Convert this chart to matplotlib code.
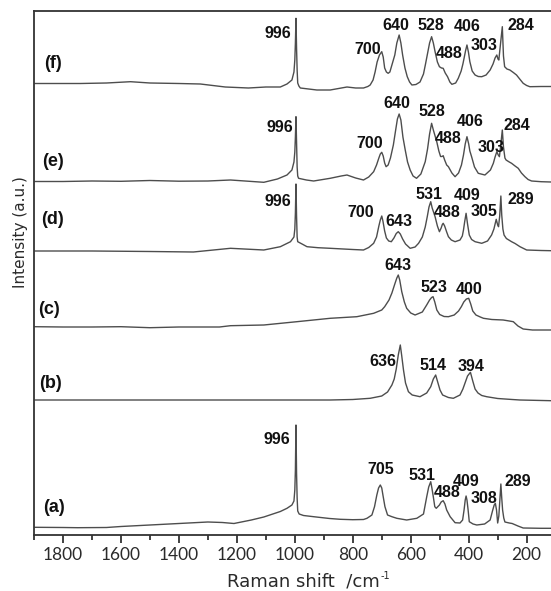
import numpy as np
import matplotlib
matplotlib.use("Agg")
import matplotlib.pyplot as plt
from matplotlib.ticker import MultipleLocator

# Raman spectra: wavenumber (cm-1) and intensity above each trace's own baseline (a.u.)
wn_a = [1897, 1800, 1750, 1650, 1600, 1500, 1400, 1300, 1250, 1210, 1150, 1107, 1050, 1027,
        1010, 1003, 1000, 998, 996, 994, 992, 990, 985, 970, 935, 880, 843, 800, 763, 751,
        734, 725, 717, 711, 705, 700, 696, 689, 680, 665, 648, 614, 579, 556, 545, 538, 531,
        527, 522, 517, 512, 501, 495, 488, 482, 476, 464, 447, 430, 421, 416, 412, 409, 406,
        402, 398, 385, 372, 345, 326, 317, 312, 308, 304, 300, 296, 292, 289, 286, 283, 279,
        275, 260, 250, 230, 212, 150, 116]
int_a = [0.7, 0.5, 0.3, 0.5, 1.5, 3, 4.5, 6, 5.5, 4.5, 8, 11, 16.5, 19.7,
         23, 27, 38, 58, 103, 55, 30, 17, 14, 12.5, 11.3, 9.5, 8.7, 8.3, 8.5, 9.7,
         13, 21.3, 33, 40, 43, 40, 33, 21.3, 13, 11.3, 9.7, 8, 9.7, 14, 31, 41, 46.3,
         40, 31, 21.3, 19.7, 23, 26, 27.3, 24, 18, 11.3, 5.3, 5, 8, 18, 28, 32, 28,
         18, 6.3, 4, 3, 4, 8, 18, 23, 24.7, 18, 5, 12, 30, 44, 30, 18, 10,
         6, 5, 4.5, 2, 0, -0.3, -0.3]

wn_b = [1897, 1500, 1222, 878, 800, 740, 700, 680, 665, 657, 650, 643, 636, 631, 625, 618,
        608, 595, 568, 545, 531, 522, 514, 508, 499, 490, 470, 453, 430, 420, 413, 404, 394,
        386, 378, 368, 355, 338, 300, 250, 223, 116]
int_b = [1, 1, 1, 1, 1.5, 2.7, 5, 9, 16, 22, 32, 46, 56, 45, 31, 18,
         9.3, 6, 4.3, 8, 14.3, 22, 26, 20, 11, 6, 3.5, 2.7, 6, 12, 17.7, 25, 28.7,
         20, 12, 8, 5.5, 4.3, 2.5, 1.5, 1, 0.3]

wn_c = [1897, 1800, 1700, 1600, 1500, 1400, 1260, 1222, 1107, 993, 878, 786, 728, 700, 690,
        675, 665, 655, 648, 643, 638, 631, 622, 614, 600, 585, 560, 545, 535, 528, 523, 517,
        510, 500, 485, 470, 450, 435, 425, 417, 408, 400, 393, 386, 375, 360, 349, 320, 281,
        260, 246, 230, 212, 180, 116]
int_c = [3.3, 3, 3, 3.3, 2.3, 3, 3, 4.3, 5, 8.3, 11.7, 13.3, 16.7, 20, 23.3,
         30, 37, 46, 52, 55, 50, 38.3, 28, 21.7, 17, 15, 18, 25, 30, 32.5, 33.3, 28,
         20, 15.5, 13.5, 13.3, 15, 19, 23.5, 28, 31, 31.7, 26, 19, 15, 13, 11.7, 10.5, 10,
         9, 8.3, 4, 1, 0, 0]

wn_d = [1897, 1700, 1500, 1350, 1222, 1107, 1050, 1015, 1003, 1000, 998, 996, 994, 992, 990,
        975, 958, 920, 878, 800, 763, 745, 728, 718, 710, 705, 700, 696, 690, 684, 676, 667,
        658, 650, 643, 636, 628, 618, 602, 585, 573, 560, 550, 543, 537, 531, 526, 516, 508,
        501, 495, 491, 488, 483, 476, 470, 460, 447, 430, 422, 418, 414, 409, 404, 398, 390,
        378, 355, 335, 321, 313, 305, 300, 297, 293, 289, 286, 282, 278, 270, 252, 240, 223,
        200, 150, 116]
int_d = [0, 0, -0.5, -1, 2.7, 1, 4.3, 9.3, 14, 22, 38, 67, 35, 14, 9.3,
         7, 4.3, 3.3, 2.7, 1.5, 1, 3.5, 7.7, 14, 25, 31, 35, 30, 20, 13, 10, 9.3,
         13, 17.5, 19.3, 17, 12, 7, 2.7, 4, 7.7, 14, 24, 34.3, 44, 49.3, 43, 34.3, 25,
         19.3, 23, 26.5, 27.7, 25, 19, 14.3, 11, 9.3, 11, 15, 21, 29, 37.7, 27, 16, 11.5,
         9.3, 7.7, 10, 16, 22, 31.7, 26, 24.3, 35, 55, 36, 22, 16, 12.5, 9.3, 7.5, 4.3,
         1, 0.5, 0.3]

wn_e = [1897, 1800, 1700, 1600, 1500, 1400, 1300, 1222, 1107, 1060, 1027, 1010, 1003, 1000,
        998, 996, 994, 992, 990, 987, 960, 935, 878, 840, 820, 790, 763, 745, 728, 718, 710,
        705, 700, 695, 690, 685, 678, 670, 660, 652, 646, 640, 634, 627, 619, 611, 602, 592,
        580, 565, 550, 542, 535, 528, 522, 516, 510, 503, 497, 492, 488, 483, 476, 470, 458,
        447, 435, 425, 418, 412, 406, 400, 396, 390, 380, 367, 344, 325, 315, 309, 303, 298,
        294, 289, 284, 280, 275, 271, 260, 252, 240, 229, 218, 206, 195, 183, 150, 116]
int_e = [0.5, 0.5, 1, 0.7, 1.5, 0.8, 1, 2, -0.3, 3, 7, 12, 20, 30,
         45, 65.3, 40, 15, 6, 3.7, 2, 1, 3.7, 6, 7, 4, 2, 5, 10.3, 17, 24,
         28, 29.7, 26, 19, 15.3, 17, 24, 37, 52, 63, 68, 62, 45, 32, 20, 12, 6,
         3.7, 8, 20.3, 33, 48, 58.7, 52, 46, 40, 31, 25.5, 25.5, 26.3, 22, 17, 15.3, 9,
         5.3, 9, 17, 27, 38, 45.3, 38, 31, 25.3, 15, 8.7, 7, 12, 18.7, 25, 30.3, 27,
         25.3, 38, 52, 35, 24, 22, 20, 18.7, 16, 13.7, 9, 5.3, 2.5, 1, 0.3, 0]

wn_f = [1897, 1800, 1740, 1650, 1567, 1500, 1400, 1326, 1240, 1160, 1100, 1050, 1027, 1010,
        1003, 1000, 998, 996, 994, 992, 990, 986, 981, 924, 878, 820, 790, 763, 748, 740, 730,
        723, 716, 708, 700, 695, 690, 684, 678, 672, 664, 655, 648, 640, 634, 628, 620, 612,
        604, 596, 582, 568, 556, 549, 543, 535, 528, 522, 516, 508, 501, 494, 488, 481, 473,
        465, 458, 445, 436, 426, 420, 416, 411, 406, 401, 396, 388, 378, 367, 355, 340, 326,
        316, 309, 303, 299, 296, 291, 284, 280, 276, 268, 258, 246, 235, 224, 212, 200, 189,
        150, 116]
int_f = [4.5, 4.5, 4.5, 5, 6.3, 5, 4.5, 4, 1, 0, 1, 1, 4, 8,
         16, 28, 45, 69.7, 40, 18, 5, 2, 0, -2, -2, 1, 0, 0, 1.5, 3, 8,
         16, 26, 33, 36.3, 31, 20, 16, 14.7, 16, 24, 33, 45, 53, 45, 33, 20, 11.3,
         6, 3, 3.5, 6, 14, 24, 33, 45, 51.3, 45, 36.3, 26, 21.3, 20, 19.7, 15, 11.3,
         6, 3.7, 5, 9.7, 17, 24, 29.7, 37, 43, 36, 26.3, 17, 13, 11.5, 11.3, 13, 18,
         24, 30, 33, 29, 28, 42, 61.3, 32, 21.3, 19, 18, 15.5, 13, 9, 4.7, 2.5, 1.3,
         1.5, 1.5]

traces = [
    ("(a)", wn_a, int_a, [996, 705, 531, 488, 409, 308, 289]),
    ("(b)", wn_b, int_b, [636, 514, 394]),
    ("(c)", wn_c, int_c, [643, 523, 400]),
    ("(d)", wn_d, int_d, [996, 700, 643, 531, 488, 409, 305, 289]),
    ("(e)", wn_e, int_e, [996, 700, 640, 528, 488, 406, 303, 284]),
    ("(f)", wn_f, int_f, [996, 700, 640, 528, 488, 406, 303, 284]),
]

# vertical stacking of the spectra
offsets = [7, 134, 205, 284, 353, 447]

# where each peak number sits (wavenumber, height)
peak_label_pos = [
    [(1062, 96), (702, 66), (562, 59), (473, 42.5), (409, 54), (347, 36.5), (232, 54)],
    [(697, 174), (524, 169), (392, 168.5)],
    [(645, 269), (519, 247.5), (399, 245)],
    [(1059, 334), (771, 322.5), (640, 314), (538, 340.5), (473, 322.5), (404, 339.5),
     (347, 324), (220, 336)],
    [(1050, 407.5), (743, 391), (647, 432), (526, 424), (471, 396.5), (395, 414),
     (323, 387.5), (233, 409)],
    [(1059, 501), (750, 486), (650, 509), (530, 509.5), (468, 482), (404, 508.5),
     (347, 489), (220, 509)],
]
panel_label_pos = [(1870, 28), (1884, 151.5), (1887, 226), (1877, 315), (1872, 374), (1866, 471.5)]

fig = plt.figure(figsize=(5.51, 5.91), dpi=100)
ax = fig.add_axes([34 / 551, 56 / 591, 517 / 551, 524 / 591])

for (name, wn, inten, peaks), off, lpos, ppos in zip(traces, offsets, peak_label_pos,
                                                      panel_label_pos):
    ax.plot(wn, np.array(inten) + off, color="#4d4d4d", linewidth=1.0,
            solid_joinstyle="round")
    for pk, (lx, ly) in zip(peaks, lpos):
        ax.text(lx, ly, str(pk), ha="center", va="center", fontsize=11.5,
                fontweight="bold", family="Liberation Sans", color="#111111")
    ax.text(ppos[0], ppos[1], name, ha="left", va="center", fontsize=13,
            fontweight="bold", family="Liberation Sans", color="#111111")

ax.set_xlim(1900, 116)
ax.set_ylim(0, 524)
ax.xaxis.set_major_locator(MultipleLocator(200))
ax.xaxis.set_minor_locator(MultipleLocator(100))
ax.set_yticks([])
ax.tick_params(axis="x", which="major", direction="out", length=5.5, width=1.3,
               color="#333333", labelsize=12.5, pad=3)
ax.tick_params(axis="x", which="minor", direction="out", length=3.3, width=1.3,
               color="#333333")
for lab in ax.get_xticklabels():
    lab.set_family("Lato")
    lab.set_color("#2a2a2a")

ax.spines["right"].set_visible(False)
for side in ("left", "top", "bottom"):
    ax.spines[side].set_linewidth(1.3)
    ax.spines[side].set_color("#333333")

# axis titles; the small "-1" hangs off the end of the x title
xtitle = fig.text(227 / 551, 1 - 581 / 591, "Raman shift  /cm", ha="left", va="center",
                  fontsize=13, family="DejaVu Sans", color="#2a2a2a")
ax.annotate("-1", xy=(1.0, 0.78), xycoords=xtitle, xytext=(0.5, 0),
            textcoords="offset points", ha="left", va="center", fontsize=7,
            family="DejaVu Sans", color="#2a2a2a", annotation_clip=False)
fig.text(21 / 551, 1 - 232 / 591, "Intensity (a.u.)", rotation=90, ha="center",
         va="center", fontsize=11, family="DejaVu Sans", color="#2a2a2a")

fig.savefig("out.png", dpi=100)
